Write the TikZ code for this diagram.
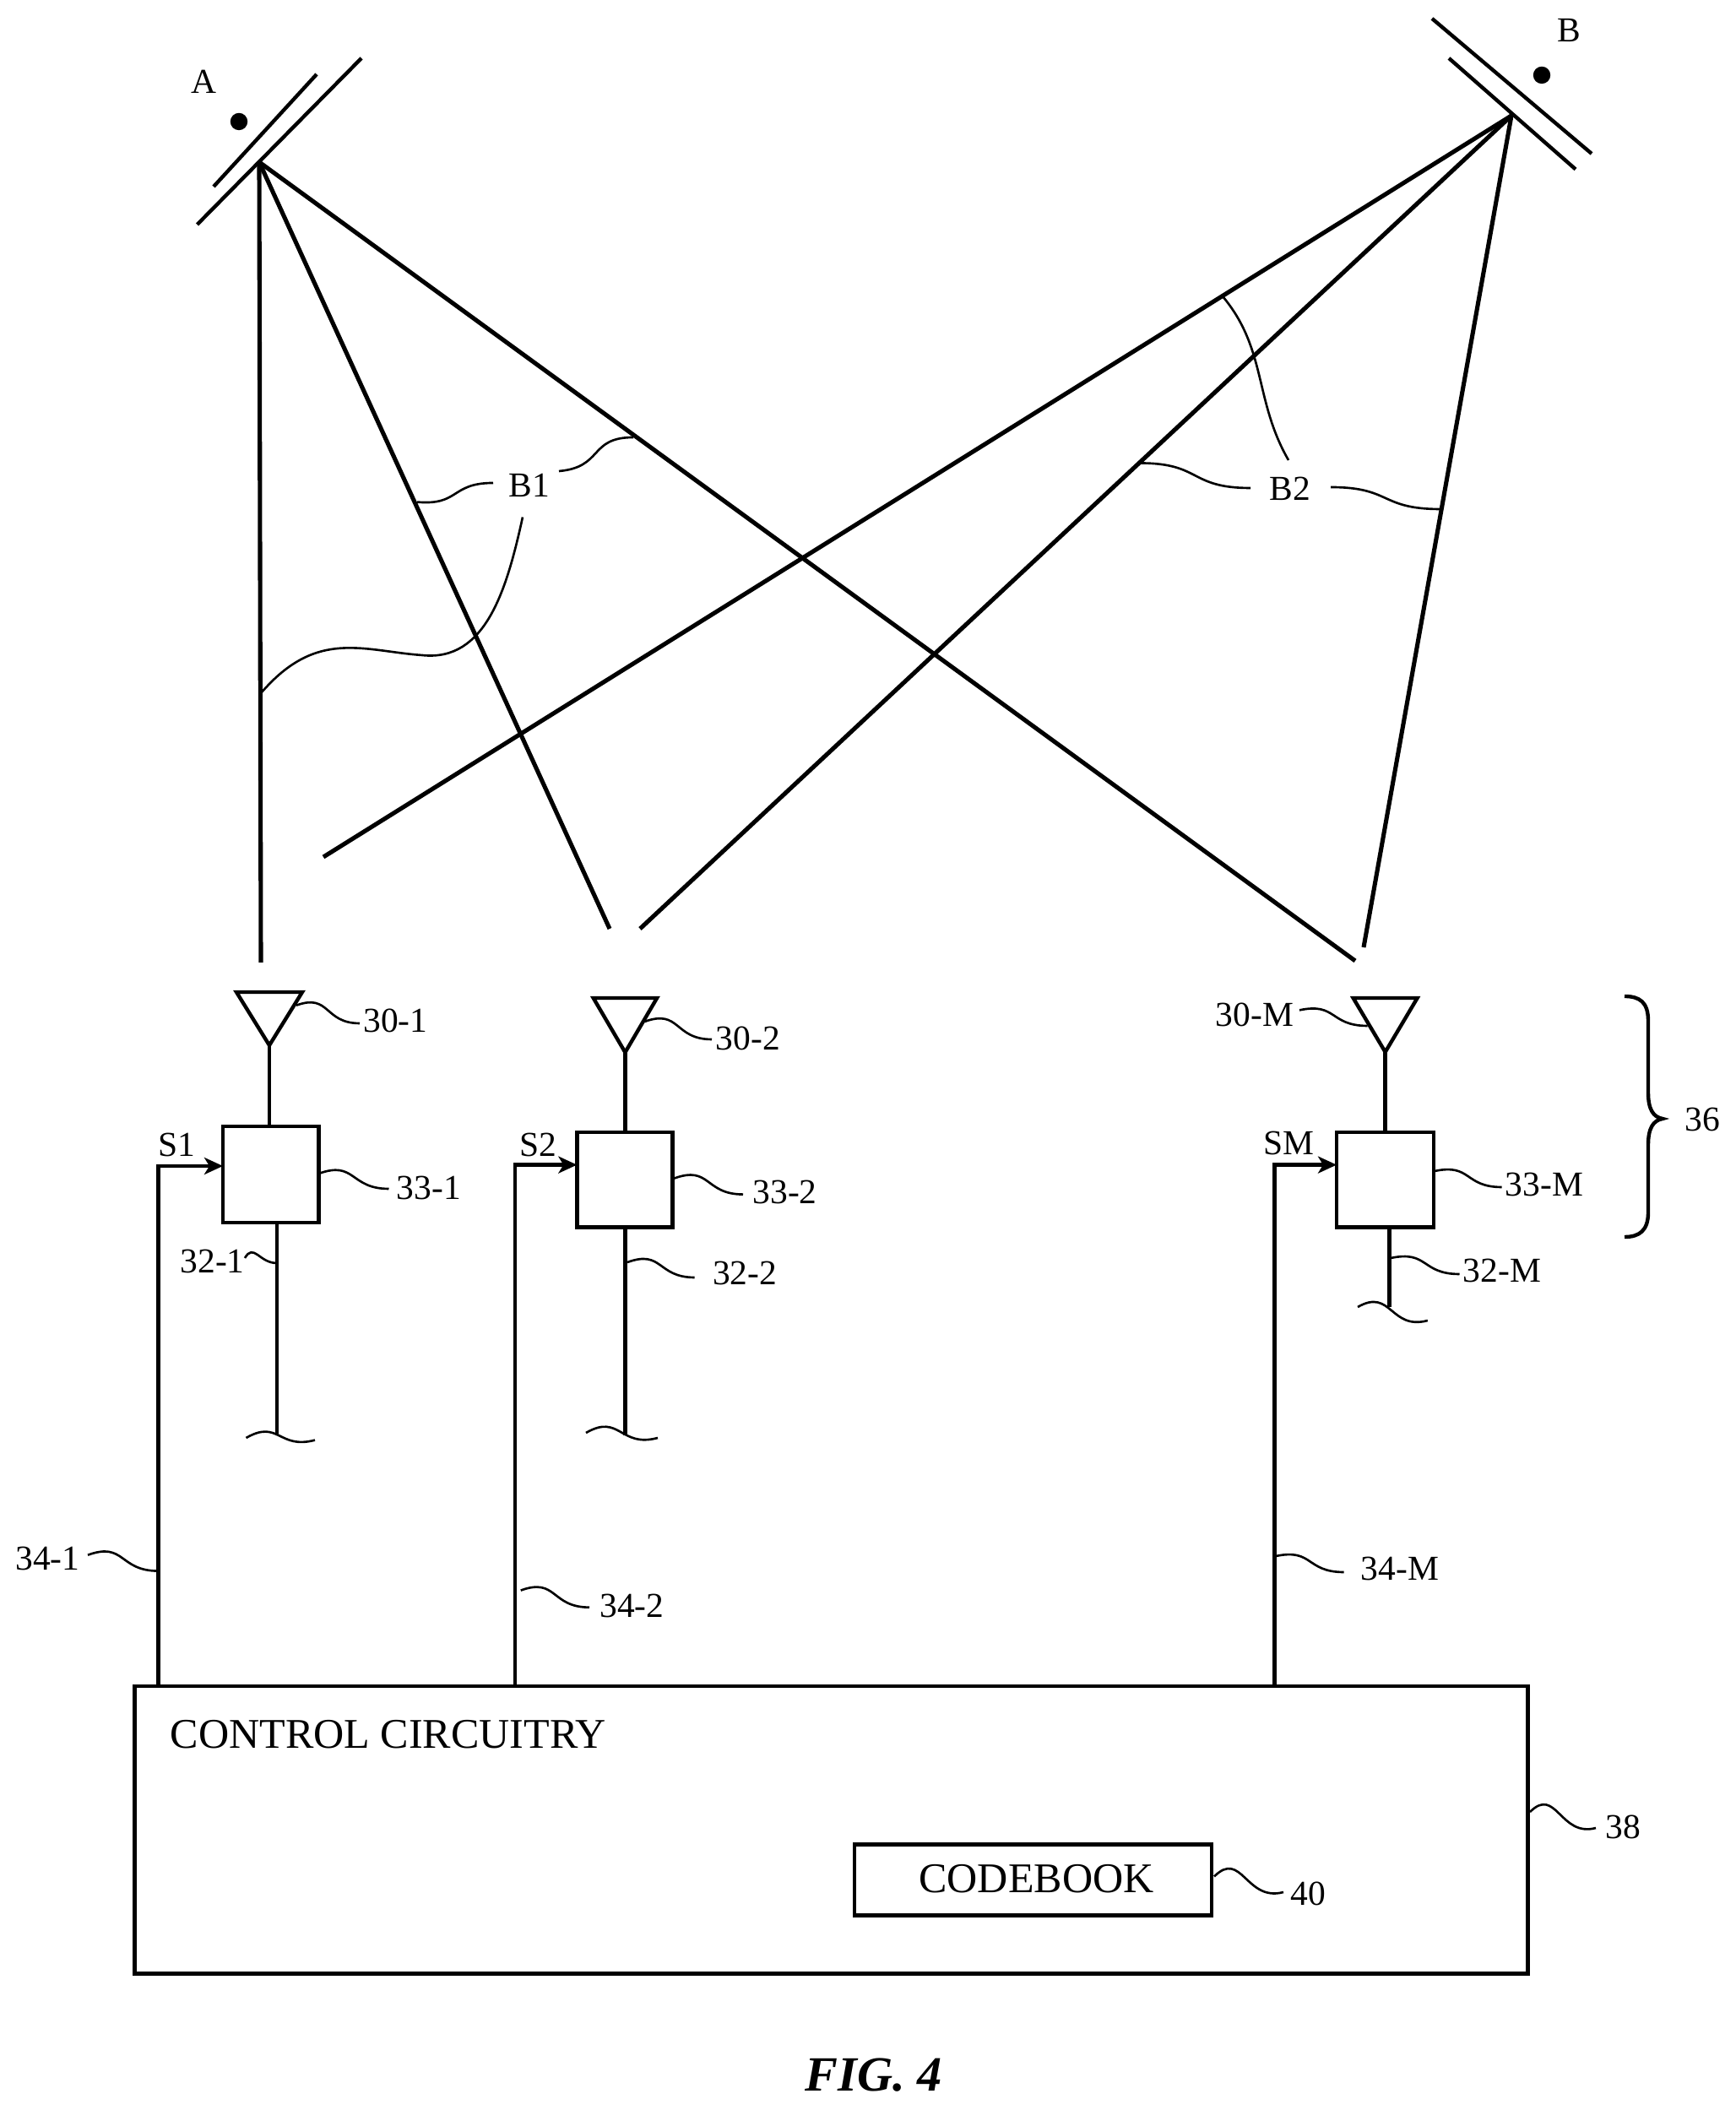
\documentclass[tikz,border=0pt]{standalone}
\usepackage{fontspec}
\setmainfont{Liberation Serif}
\usetikzlibrary{arrows.meta}
\begin{document}
\begin{tikzpicture}[
    line cap=butt,
    beam/.style={line width=1.45pt},
    wire/.style={line width=1.25pt},
    box/.style={draw,line width=1.35pt,inner sep=0,outer sep=0},
    dot/.style={draw,fill,circle,inner sep=0,minimum size=1.9mm},
    leader/.style={line width=.75pt,looseness=1.4},
    lab/.style={inner sep=0,font=\fontsize{11.8}{14}\selectfont},
    big/.style={inner sep=0,font=\fontsize{14.25}{17}\selectfont}
  ]
  \useasboundingbox (0,0) rectangle (20.56,24.99);

  \coordinate (apexA) at (3.07,23.07);
  \coordinate (apexB) at (17.90,23.62);
  \coordinate (endA1) at (3.09,13.59);
  \coordinate (endA2) at (7.22,13.99);
  \coordinate (endA3) at (16.05,13.61);
  \coordinate (endB1) at (3.83,14.84);
  \coordinate (endB2) at (7.58,13.99);
  \coordinate (endB3) at (16.15,13.77);
  \foreach \i in {1,2,3} {
    \draw[beam] (apexA) -- (endA\i);
    \draw[beam] (apexB) -- (endB\i);
  }

  \coordinate (panA1) at (2.53,22.78);
  \coordinate (panA2) at (3.75,24.11);
  \coordinate (panA3) at (2.335,22.33);
  \coordinate (panA4) at (4.28,24.30);
  \coordinate (panB1) at (17.16,24.30);
  \coordinate (panB2) at (18.66,22.985);
  \coordinate (panB3) at (16.96,24.77);
  \coordinate (panB4) at (18.85,23.17);
  \draw[wire] (panA1) -- (panA2);
  \draw[wire] (panA3) -- (panA4);
  \draw[wire] (panB1) -- (panB2);
  \draw[wire] (panB3) -- (panB4);
  \node[dot] (dotA) at (2.83,23.55) {};
  \node[dot] (dotB) at (18.26,24.10) {};
  \node[lab] (labA) at (2.415,24.025) {A};
  \node[lab] (labB) at (18.585,24.63) {B};

  \node[box,minimum width=16.504cm,minimum height=3.406cm] (ctl) at (9.845,3.317) {};
  \node[big,anchor=west] (ctltext) at (2.01,4.45) {CONTROL CIRCUITRY};
  \node[box,minimum width=4.23cm,minimum height=.84cm] (code) at (12.235,2.724) {};
  \node[big] (codetext) at (12.275,2.74) {CODEBOOK};
  \node[inner sep=0,font=\fontsize{16.6}{20}\selectfont\bfseries\itshape] (fig) at (10.35,.41) {FIG. 4};

  \foreach \i/\x/\y/\w/\h/\ax/\ay/\at/\hw/\fx/\fy/\ux/\uy/\sx/\sy/\sname in {
      1/3.2075/11.08/1.135/1.14/3.19/12.61/13.24/.39/3.28/7.99/1.875/11.18/2.095/11.435/S1,
      2/7.40/11.017/1.133/1.126/7.404/12.526/13.17/.377/7.404/7.99/6.097/11.194/6.378/11.435/S2,
      M/16.405/11.017/1.15/1.126/16.406/12.53/13.17/.38/16.456/9.51/15.096/11.194/15.268/11.45/SM} {
    \node[box,minimum width=\w cm,minimum height=\h cm] (sw\i) at (\x,\y) {};
    \coordinate (ant\i) at (\ax,\ay);
    \coordinate (feed\i) at (\fx,\fy);
    \coordinate (up\i) at (\ux,\uy);
    \draw[wire,line join=miter] (ant\i) -- (\ax-\hw,\at) -- (\ax+\hw,\at) -- cycle;
    \draw[wire] (ant\i) -- (ant\i |- sw\i.north);
    \draw[wire] (feed\i |- sw\i.south) -- (feed\i);
    \draw[wire,-{Stealth[length=2.2mm,width=2mm,inset=.6mm]}] (ctl.north -| up\i) -- (up\i) -- (up\i -| sw\i.west);
    \node[lab] (sig\i) at (\sx,\sy) {\sname};
  }

  \foreach \t/\lx/\ly/\ax/\ay/\bx/\by/\o/\n in {
      30-1/4.685/12.90/3.51/13.083/4.26/12.87/20/180,
      33-1/5.08/10.92/3.775/11.09/4.605/10.91/20/180,
      32-1/2.516/10.05/2.90/10.09/3.28/10.03/60/180,
      34-1/.565/6.53/1.04/6.573/1.875/6.384/20/180,
      30-2/8.86/12.69/7.634/12.89/8.43/12.68/20/180,
      33-2/9.296/10.873/7.985/11.034/8.80/10.844/20/180,
      32-2/8.82/9.91/7.43/10.04/8.227/9.86/20/180,
      34-2/7.484/5.97/6.167/6.154/6.98/5.953/20/180,
      30-M/14.858/12.974/15.39/13.026/16.197/12.84/12/180,
      33-M/18.29/10.965/16.99/11.12/17.787/10.93/12/180,
      32-M/17.79/9.943/16.47/10.09/17.285/9.90/12/180,
      34-M/16.58/6.412/15.11/6.56/15.916/6.37/12/180,
      38/19.22/3.35/18.12/3.53/18.90/3.34/45/195,
      40/15.495/2.556/14.38/2.765/15.20/2.58/45/195} {
    \node[lab] (lab\t) at (\lx,\ly) {\t};
    \coordinate (from\t) at (\ax,\ay);
    \coordinate (to\t) at (\bx,\by);
    \draw[leader] (from\t) to[out=\o,in=\n] (to\t);
  }

  \node[lab] (labB1) at (6.27,19.245) {B1};
  \node[lab] (labB2) at (15.28,19.20) {B2};
  \coordinate (b1a) at (4.94,19.044);
  \coordinate (b1b) at (5.84,19.27);
  \coordinate (b1c) at (6.62,19.41);
  \coordinate (b1d) at (7.50,19.81);
  \coordinate (b1e) at (3.09,16.78);
  \coordinate (b1f) at (6.19,18.865);
  \coordinate (b2a) at (14.48,21.48);
  \coordinate (b2b) at (15.26,19.54);
  \coordinate (b2c) at (13.50,19.505);
  \coordinate (b2d) at (14.81,19.21);
  \coordinate (b2e) at (15.76,19.22);
  \coordinate (b2f) at (17.06,18.96);
  \draw[leader] (b1a) to[out=-5,in=180] (b1b);
  \draw[leader] (b1c) to[out=5,in=180] (b1d);
  \draw[leader] (b1e) .. controls (3.75,17.55) and (4.3,17.28) .. (5.0,17.23)
    .. controls (5.75,17.15) and (6.0,18.0) .. (b1f);
  \draw[leader,looseness=1] (b2a) to[out=-50,in=120] (b2b);
  \draw[leader] (b2c) to[out=0,in=180] (b2d);
  \draw[leader] (b2e) to[out=0,in=180] (b2f);

  \foreach \i/\ax/\ay/\bx/\by in {
      1/2.915/7.96/3.73/7.934,
      2/6.94/8.02/7.79/7.96,
      M/16.08/9.51/16.908/9.35} {
    \coordinate (cutl\i) at (\ax,\ay);
    \coordinate (cutr\i) at (\bx,\by);
    \draw[leader] (cutl\i) to[out=30,in=195] (cutr\i);
  }

  \coordinate (bracetop) at (19.24,13.19);
  \coordinate (bracetip) at (19.69,11.74);
  \coordinate (bracebot) at (19.24,10.34);
  \draw[wire] (bracetop) .. controls (19.42,13.19) and (19.52,13.12) .. (19.52,12.9)
    -- (19.52,12.05) .. controls (19.52,11.85) and (19.58,11.76) .. (bracetip)
    .. controls (19.58,11.72) and (19.52,11.63) .. (19.52,11.43)
    -- (19.52,10.63) .. controls (19.52,10.42) and (19.42,10.34) .. (bracebot);
  \node[lab] (lab36) at (20.16,11.73) {36};
\end{tikzpicture}
\end{document}
